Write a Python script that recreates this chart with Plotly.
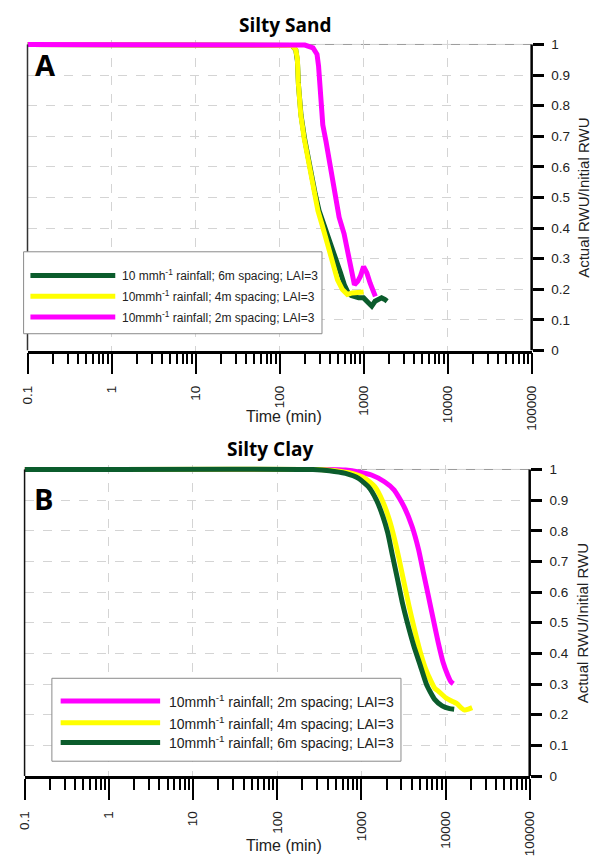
import plotly.graph_objects as go

W, H = 603, 863

# ---------------- DATA ----------------
# Panel A - Silty Sand (time in minutes, ratio actual/initial RWU)
sand_6m_t = [0.1, 112, 140, 156, 163, 168, 180, 198, 221, 242, 266, 295, 340, 385, 430, 475, 530, 590,
             650, 713, 778, 875, 1000, 1143, 1250, 1368, 1496, 1637, 1786, 1905]
sand_6m_v = [1.0, 1.0, 0.997, 0.982, 0.946, 0.866, 0.769, 0.694, 0.618, 0.565, 0.511, 0.457, 0.410, 0.370,
             0.335, 0.300, 0.255, 0.215, 0.190, 0.180, 0.176, 0.172, 0.172, 0.156, 0.145, 0.161, 0.167, 0.172,
             0.167, 0.161]
sand_4m_t = [0.1, 112, 140, 156, 163, 167, 179, 196, 219, 239, 261, 286, 327, 374, 428, 489, 560, 640, 731, 875, 1000]
sand_4m_v = [1.0, 1.0, 0.997, 0.982, 0.952, 0.876, 0.769, 0.694, 0.618, 0.565, 0.511, 0.457, 0.403, 0.349,
             0.285, 0.231, 0.199, 0.183, 0.188, 0.188, 0.191]
sand_2m_t = [0.1, 158, 200, 250, 279, 291, 307, 327, 357, 409, 459, 512, 585, 668, 731, 778, 851, 914,
             1000, 1094, 1197, 1309, 1380]
sand_2m_v = [1.0, 1.0, 0.998, 0.989, 0.968, 0.930, 0.823, 0.737, 0.683, 0.586, 0.500, 0.435, 0.382, 0.306,
             0.253, 0.215, 0.226, 0.242, 0.274, 0.253, 0.220, 0.188, 0.177]

# Panel B - Silty Clay
clay_2m_t = [0.1, 398, 650, 927, 1321, 1884, 2460, 3214, 4009, 4786, 5470, 6252, 7145, 8166, 9333, 10641, 11641, 12388]
clay_2m_v = [1.0, 1.0, 0.998, 0.992, 0.982, 0.960, 0.933, 0.879, 0.814, 0.739, 0.663, 0.588, 0.512, 0.437,
             0.372, 0.329, 0.307, 0.301]
clay_4m_t = [0.1, 316, 498, 776, 1107, 1445, 1803, 2153, 2460, 2812, 3214, 3673, 4266, 5012, 5984, 7464, 8222,
             10093, 12417, 13740, 15240, 16904, 18707, 20749]
clay_4m_v = [1.0, 1.0, 0.996, 0.987, 0.971, 0.944, 0.895, 0.836, 0.777, 0.707, 0.631, 0.556, 0.480, 0.405,
             0.340, 0.286, 0.277, 0.255, 0.242, 0.236, 0.223, 0.215, 0.218, 0.223]
clay_6m_t = [0.1, 267, 417, 650, 927, 1211, 1510, 1803, 2061, 2355, 2692, 3069, 3508, 4188, 5012, 5984, 7430,
             9120, 11194, 12677]
clay_6m_v = [1.0, 1.0, 0.996, 0.987, 0.971, 0.944, 0.901, 0.847, 0.793, 0.717, 0.642, 0.566, 0.502, 0.426,
             0.361, 0.297, 0.250, 0.229, 0.220, 0.218]

x_tickvals = [0.1, 1, 10, 100, 1000, 10000, 100000]
x_ticktext = ["0.1", "1", "10", "100", "1000", "10000", "100000"]
y_tickvals = [0, 0.1, 0.2, 0.3, 0.4, 0.5, 0.6, 0.7, 0.8, 0.9, 1]
y_ticktext = ["0", "0.1", "0.2", "0.3", "0.4", "0.5", "0.6", "0.7", "0.8", "0.9", "1"]

legend_a = ["10 mmh<sup>-1</sup> rainfall; 6m spacing; LAI=3",
            "10mmh<sup>-1</sup> rainfall; 4m spacing; LAI=3",
            "10mmh<sup>-1</sup> rainfall; 2m spacing; LAI=3"]
legend_b = ["10mmh<sup>-1</sup> rainfall; 2m spacing; LAI=3",
            "10mmh<sup>-1</sup> rainfall; 4m spacing; LAI=3",
            "10mmh<sup>-1</sup> rainfall; 6m spacing; LAI=3"]

GREEN = "#0b5c2c"
YELLOW = "#ffff00"
MAGENTA = "#ff00ff"
FONT = "Liberation Sans, Arial, sans-serif"
LW = 5

# ---------------- FIGURE ----------------
fig = go.Figure()

def px(xp):
    return xp / W

def py(yp):
    return 1 - yp / H

# Panel A traces (green under yellow under magenta)
fig.add_trace(go.Scatter(x=sand_6m_t, y=sand_6m_v, mode="lines", line=dict(color=GREEN, width=LW),
                         xaxis="x", yaxis="y", showlegend=False, name="6m spacing"))
fig.add_trace(go.Scatter(x=sand_4m_t, y=sand_4m_v, mode="lines", line=dict(color=YELLOW, width=LW),
                         xaxis="x", yaxis="y", showlegend=False, name="4m spacing"))
fig.add_trace(go.Scatter(x=sand_2m_t, y=sand_2m_v, mode="lines", line=dict(color=MAGENTA, width=LW),
                         xaxis="x", yaxis="y", showlegend=False, name="2m spacing"))
# Panel B traces (magenta under yellow under green)
fig.add_trace(go.Scatter(x=clay_2m_t, y=clay_2m_v, mode="lines",
                         line=dict(color=MAGENTA, width=LW, shape="spline", smoothing=0.5),
                         xaxis="x2", yaxis="y2", showlegend=False, name="2m spacing"))
fig.add_trace(go.Scatter(x=clay_4m_t, y=clay_4m_v, mode="lines",
                         line=dict(color=YELLOW, width=LW, shape="spline", smoothing=0.5),
                         xaxis="x2", yaxis="y2", showlegend=False, name="4m spacing"))
fig.add_trace(go.Scatter(x=clay_6m_t, y=clay_6m_v, mode="lines",
                         line=dict(color=GREEN, width=LW, shape="spline", smoothing=0.5),
                         xaxis="x2", yaxis="y2", showlegend=False, name="6m spacing"))

minor_vals = [d * 10 ** k for k in range(-1, 5) for d in range(2, 10)]

YTOP = 1.015

def xaxis_cfg(x0p, x1p):
    return dict(
        type="log", range=[-1, 5], domain=[px(x0p), px(x1p)],
        tickmode="array", tickvals=x_tickvals, ticktext=x_ticktext, tickangle=-90,
        ticks="outside", ticklen=21, tickwidth=2, tickcolor="black",
        ticklabelstandoff=6,
        showline=True, linecolor="black", linewidth=2.5,
        showgrid=True, gridcolor="#d4d4d4", gridwidth=1, griddash="dash",
        zeroline=False,
        tickfont=dict(family=FONT, size=13.5, color="#222"),
        minor=dict(tickmode="array", tickvals=minor_vals, ticks="outside", ticklen=11,
                   tickwidth=2, tickcolor="black", showgrid=False),
    )

def yaxis_cfg(y1p, y0p, anchor):
    per = (y0p - y1p)
    top_p = y1p - (YTOP - 1) * per
    return dict(
        range=[0, YTOP], domain=[py(y0p), py(top_p)], side="right", anchor=anchor,
        tickmode="array", tickvals=y_tickvals, ticktext=y_ticktext,
        ticks="outside", ticklen=11, tickwidth=2.5, tickcolor="black",
        ticklabelstandoff=5,
        showline=False, zeroline=False,
        showgrid=True, gridcolor="#d4d4d4", gridwidth=1, griddash="dash",
        tickfont=dict(family=FONT, size=13.5, color="#222"),
    )

fig.update_layout(
    width=W, height=H, margin=dict(l=0, r=0, t=0, b=0),
    paper_bgcolor="white", plot_bgcolor="white",
    xaxis=dict(anchor="y", **xaxis_cfg(20, 537)),
    yaxis=yaxis_cfg(42, 352, "x"),
    xaxis2=dict(anchor="y2", **xaxis_cfg(17, 535)),
    yaxis2=yaxis_cfg(472.5, 783, "x2"),
)

shapes = []
annotations = []

# frame pieces for each panel
for xr, yr, lc in [("x", "y", "#333"), ("x2", "y2", "#111")]:
    shapes.append(dict(type="line", xref=xr + " domain", yref=yr, x0=1, x1=1, y0=0, y1=1,
                       line=dict(color="black", width=2.5)))
    shapes.append(dict(type="line", xref=xr + " domain", yref=yr, x0=0, x1=0, y0=0, y1=1,
                       line=dict(color=lc, width=1.5)))
    shapes.append(dict(type="line", xref=xr + " domain", yref=yr, x0=0, x1=1, y0=1, y1=1,
                       line=dict(color="#9a9a9a", width=1), layer="below"))

# custom legends
def add_legend(box, line_x, text_x, rows, labels, colors, fsize):
    bx0, bx1, by0, by1 = box
    shapes.append(dict(type="rect", xref="paper", yref="paper", x0=px(bx0), x1=px(bx1), y0=py(by1), y1=py(by0),
                       line=dict(color="#8a8a8a", width=1), fillcolor="white", layer="above"))
    for r, lab, c in zip(rows, labels, colors):
        shapes.append(dict(type="line", xref="paper", yref="paper", x0=px(line_x[0]), x1=px(line_x[1]),
                           y0=py(r), y1=py(r), line=dict(color=c, width=5)))
        annotations.append(dict(text=lab, xref="paper", yref="paper", x=px(text_x), y=py(r),
                                xanchor="left", yanchor="middle", showarrow=False,
                                font=dict(family=FONT, size=fsize, color="#222")))

add_legend((16, 322, 252, 335), (23, 110), 115, [276, 297, 318], legend_a, [GREEN, YELLOW, MAGENTA], 12)
add_legend((45, 403, 684, 768), (54, 156), 163, [707, 729, 749], legend_b, [MAGENTA, YELLOW, GREEN], 14)

# titles and labels
for txt, x, y in [("Silty Sand", 285, 22), ("Silty Clay", 269, 452)]:
    annotations.append(dict(text="<b>" + txt + "</b>", xref="paper", yref="paper", x=px(x), y=py(y),
                            xanchor="center", yanchor="middle", showarrow=False,
                            font=dict(family="Open Sans, sans-serif", size=19, color="black")))
for txt, x, y in [("A", 38, 62), ("B", 36, 502)]:
    annotations.append(dict(text="<b>" + txt + "</b>", xref="paper", yref="paper", x=px(x), y=py(y),
                            xanchor="center", yanchor="middle", showarrow=False,
                            font=dict(family="Open Sans, sans-serif", size=29, color="black")))
for y in [419, 853]:
    annotations.append(dict(text="Time (min)", xref="paper", yref="paper", x=px(283), y=py(y),
                            xanchor="center", yanchor="middle", showarrow=False,
                            font=dict(family=FONT, size=16, color="#222")))
for y in [197, 628]:
    annotations.append(dict(text="Actual RWU/Initial RWU", xref="paper", yref="paper", x=px(590), y=py(y),
                            xanchor="center", yanchor="middle", showarrow=False, textangle=-90,
                            font=dict(family=FONT, size=15, color="#222")))

fig.update_layout(shapes=shapes, annotations=annotations)

fig.write_html("out.html")
